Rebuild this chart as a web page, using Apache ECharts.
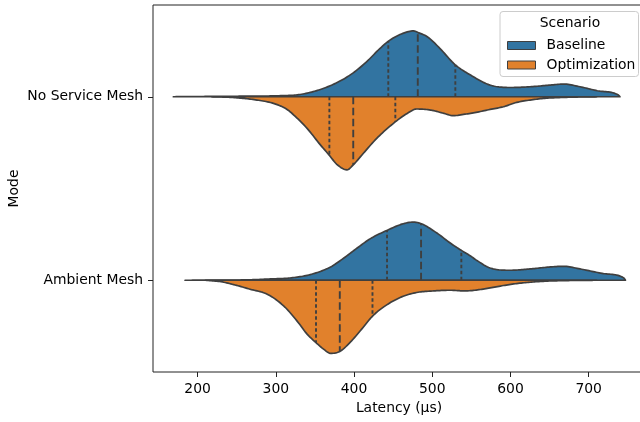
<!DOCTYPE html>
<html>
<head>
<meta charset="utf-8">
<script src="https://cdn.jsdelivr.net/npm/echarts@6/dist/echarts.min.js"></script>
<style>
  html, body { margin: 0; padding: 0; background: #fff; }
  #chart { width: 640px; height: 422px; }
</style>
</head>
<body>
<div id="chart"></div>
<script>
const modes = ['No Service Mesh', 'Ambient Mesh'];
const scenarios = ['Baseline', 'Optimization'];
const xTicks = [200, 300, 400, 500, 600, 700];

// KDE estimates: [latency µs, density in % of the tallest half]
const noMeshBaseline = [
  [169, 0], [200, 0.3], [240, 0.6], [270, 0.9], [306, 1.4], [331, 3.1], [357, 9.9],
  [382, 21.3], [399, 32.6], [416, 47.6], [433, 65.6], [444, 75.7], [455, 82.9],
  [468, 88.3], [476, 89.7], [482, 87.4], [494, 81.5], [510, 65.6], [529, 43.9],
  [549, 29.5], [574, 15.9], [600, 12.6], [625, 13.6], [651, 15.9], [668, 17.3],
  [689, 13.6], [711, 8.2], [738, 2.3], [740, 0]
];
const noMeshOptimization = [
  [218, 0], [245, 1], [276, 4.5], [297, 9], [314, 17], [323, 24.9], [340, 43.1],
  [357, 65.6], [368, 79.2], [378, 92], [391, 99.6], [399, 92.8], [412, 77],
  [429, 56.7], [453, 34], [468, 22.7], [480, 16.7], [498, 18.1], [515, 22.7],
  [527, 25.8], [540, 24], [549, 22.7], [574, 17.3], [591, 13.6], [608, 7.7],
  [625, 4.5], [642, 2.3], [670, 0.8], [710, 0]
];
const ambientBaseline = [
  [184, 0], [230, 0.2], [267, 0.6], [293, 1.8], [318, 3.1], [344, 7.7], [370, 18.1],
  [387, 30.3], [404, 43.9], [421, 56.7], [442, 67.9], [463, 77], [476, 79.2],
  [486, 77], [506, 64.3], [523, 50.7], [537, 40.8], [549, 33], [557, 27],
  [574, 16.7], [600, 13.6], [625, 15.4], [651, 18.1], [668, 19], [689, 15.4],
  [719, 9.1], [745, 3.1], [747, 0]
];
const ambientOptimization = [
  [210, 0], [230, 2], [246, 5.9], [267, 12.2], [289, 19], [310, 34.9], [327, 55.3],
  [340, 73.4], [351, 84.6], [361, 93.8], [370, 99.6], [382, 96.9], [395, 84.6],
  [408, 68.9], [424, 48.5], [438, 36.3], [459, 23.5], [480, 16.7], [502, 14.5],
  [523, 13.6], [540, 14.5], [549, 14.2], [574, 10.5], [591, 7.2], [608, 4.5],
  [625, 2.7], [642, 1.4], [680, 0.3], [710, 0]
];

// quartiles [Q1, median, Q3]
const noMeshBaselineQuart = [443.8, 481.5, 529.5];
const noMeshOptimizationQuart = [368.5, 399, 452.8];
const ambientBaselineQuart = [442.2, 485.7, 537.2];
const ambientOptimizationQuart = [351.4, 381.8, 423.6];

const colors = ['#3274a1', '#e1812c'];
const edge = '#3f3f3f';
const font = 'DejaVu Sans';

// [scenario][mode]
const curves = [
  [noMeshBaseline, ambientBaseline],
  [noMeshOptimization, ambientOptimization]
];
const quarts = [
  [noMeshBaselineQuart, ambientBaselineQuart],
  [noMeshOptimizationQuart, ambientOptimizationQuart]
];

// monotone cubic (Fritsch-Carlson) through pixel points, returns dense outline
function smoothPath(p) {
  const n = p.length;
  const dx = [], sl = [], t = [];
  for (let i = 0; i < n - 1; i++) {
    dx[i] = p[i + 1][0] - p[i][0];
    sl[i] = (p[i + 1][1] - p[i][1]) / dx[i];
  }
  t[0] = sl[0];
  t[n - 1] = sl[n - 2];
  for (let i = 1; i < n - 1; i++) {
    t[i] = sl[i - 1] * sl[i] <= 0 ? 0 : (sl[i - 1] + sl[i]) / 2;
  }
  for (let i = 0; i < n - 1; i++) {
    if (sl[i] === 0) { t[i] = 0; t[i + 1] = 0; continue; }
    const a = t[i] / sl[i], b = t[i + 1] / sl[i];
    const h = a * a + b * b;
    if (h > 9) {
      const r = 3 / Math.sqrt(h);
      t[i] = r * a * sl[i];
      t[i + 1] = r * b * sl[i];
    }
  }
  const out = [p[0]];
  for (let i = 0; i < n - 1; i++) {
    const steps = Math.max(2, Math.ceil(dx[i] / 1.5));
    for (let j = 1; j <= steps; j++) {
      const u = j / steps;
      const h00 = 2 * u * u * u - 3 * u * u + 1, h10 = u * u * u - 2 * u * u + u;
      const h01 = -2 * u * u * u + 3 * u * u, h11 = u * u * u - u * u;
      out.push([
        p[i][0] + u * dx[i],
        h00 * p[i][1] + h10 * dx[i] * t[i] + h01 * p[i + 1][1] + h11 * dx[i] * t[i + 1]
      ]);
    }
  }
  return out;
}

function yAt(path, x) {
  for (let i = 1; i < path.length; i++) {
    if (x <= path[i][0]) {
      const [x0, y0] = path[i - 1];
      const [x1, y1] = path[i];
      return y0 + (y1 - y0) * (x - x0) / (x1 - x0);
    }
  }
  return path[path.length - 1][1];
}

function halfViolin(s) {
  const sign = s === 0 ? -1 : 1; // baseline goes up, optimization down
  return function (params, api) {
    const m = api.value(1);
    const curve = curves[s][m];
    const band = api.size([0, 1])[1];
    const k = 0.4 * band / 100;
    const pts = curve.map(([x, d]) => {
      const c = api.coord([x, m]);
      return [c[0], c[1] + sign * d * k];
    });
    const path = smoothPath(pts);
    const first = api.coord([curve[0][0], m]);
    const last = api.coord([curve[curve.length - 1][0], m]);
    const children = [{
      type: 'polygon',
      shape: { points: [first].concat(path, [last]) },
      style: { fill: colors[s], stroke: edge, lineWidth: 1.7, lineJoin: 'round' }
    }];
    quarts[s][m].forEach((q, qi) => {
      const c = api.coord([q, m]);
      children.push({
        type: 'line',
        shape: { x1: c[0], y1: c[1], x2: c[0], y2: yAt(path, c[0]) },
        style: {
          stroke: edge, lineWidth: 1.9,
          lineDash: qi === 1 ? [7.5, 3.5] : [3.5, 2.5]
        }
      });
    });
    return { type: 'group', children };
  };
}

const chart = echarts.init(document.getElementById('chart'), null, { renderer: 'canvas' });

chart.setOption({
  animation: false,
  backgroundColor: '#fff',
  textStyle: { fontFamily: font },
  grid: {
    left: 153, top: 5, width: 492, height: 367,
    outerBoundsMode: 'none', containLabel: false,
    show: true, borderColor: '#222', borderWidth: 1, backgroundColor: 'transparent'
  },
  xAxis: {
    type: 'value',
    min: 143, max: 772,
    name: 'Latency (µs)',
    nameLocation: 'middle',
    nameGap: 29,
    nameMoveOverlap: false,
    nameTextStyle: { fontSize: 13.9, color: '#000', fontFamily: font },
    axisLine: { show: false },
    axisTick: { show: true, length: 5, customValues: xTicks, lineStyle: { color: '#222', width: 1 } },
    axisLabel: { customValues: xTicks, fontSize: 13.9, color: '#000', margin: 10, fontFamily: font },
    splitLine: { show: false }
  },
  yAxis: {
    type: 'category',
    data: modes,
    inverse: true,
    name: 'Mode',
    nameLocation: 'middle',
    nameGap: 132,
    nameMoveOverlap: false,
    nameTextStyle: { fontSize: 13.9, color: '#000', fontFamily: font },
    axisLine: { show: false },
    axisTick: { show: true, alignWithLabel: true, length: 5, lineStyle: { color: '#222', width: 1 } },
    axisLabel: { fontSize: 13.9, color: '#000', margin: 10, fontFamily: font },
    splitLine: { show: false }
  },
  legend: {
    orient: 'vertical',
    left: 502, top: 33.5,
    icon: 'rect',
    itemWidth: 28, itemHeight: 8,
    itemGap: 5.5,
    data: scenarios,
    itemStyle: { borderColor: edge, borderWidth: 1 },
    textStyle: { fontSize: 13.9, color: '#000', fontFamily: font, lineHeight: 14, padding: [0, 0, 0, 6] }
  },
  graphic: [
    {
      type: 'rect', z: 0,
      shape: { x: 500, y: 11.5, width: 138.5, height: 65, r: 3 },
      style: { fill: 'rgba(255,255,255,0.8)', stroke: '#cccccc', lineWidth: 1 }
    },
    {
      type: 'text', z: 1,
      style: { x: 570, y: 23.5, text: 'Scenario', align: 'center', verticalAlign: 'middle',
               font: '13.9px "DejaVu Sans"', fill: '#000' }
    }
  ],
  series: scenarios.map((name, s) => ({
    name,
    type: 'custom',
    itemStyle: { color: colors[s] },
    encode: { x: 0, y: 1 },
    data: modes.map((_, m) => [curves[s][m][0][0], m]),
    renderItem: halfViolin(s)
  }))
});
</script>
</body>
</html>
